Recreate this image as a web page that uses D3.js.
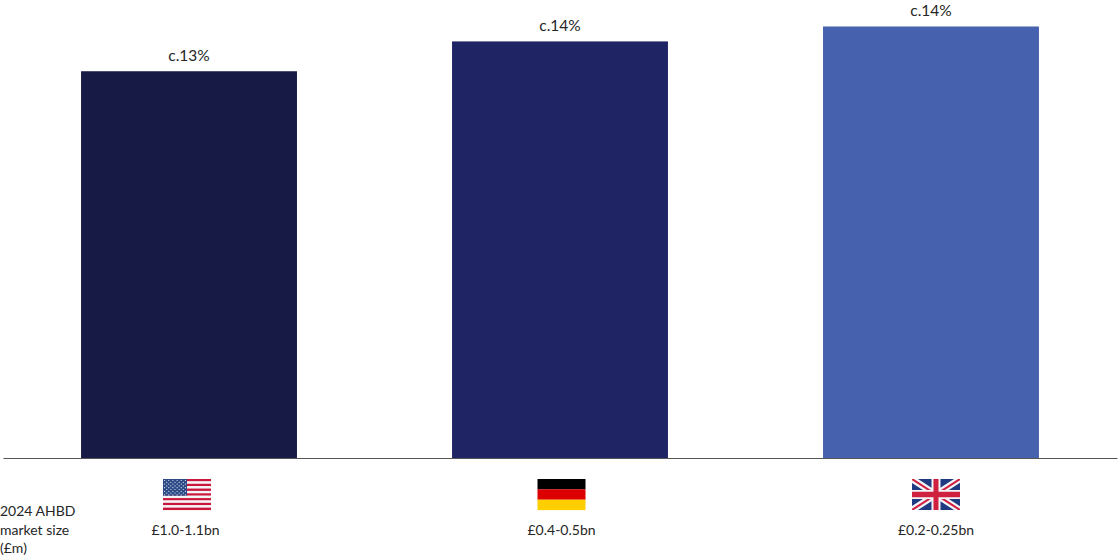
<!DOCTYPE html>
<html><head><meta charset="utf-8">
<script src="https://cdn.jsdelivr.net/npm/d3@7"></script>
<style>
html,body{margin:0;padding:0;background:#fff}
svg{display:block}
text{font-family:Lato,"Open Sans",sans-serif;fill:#262626}
</style></head><body>
<svg id="c" width="1118" height="557"></svg>
<script>
const countries = ["US","DE","UK"];
const values = [13.0, 14.0, 14.5];
const valueLabels = ["c.13%","c.14%","c.14%"];
const marketSizes = ["£1.0-1.1bn","£0.4-0.5bn","£0.2-0.25bn"];
const barColors = ["#161a45","#1f2465","#4661ad"];
const rowTitle = ["2024 AHBD","market size","(£m)"];

const svg = d3.select("#c");
const x = d3.scaleBand().domain(countries).range([3,1117]).paddingInner(0.418).paddingOuter(0.2104);
const y = d3.scaleLinear().domain([0,14.5]).range([459,26.5]);
const centre = d => x(d)+x.bandwidth()/2;

svg.selectAll("rect.bar").data(countries).join("rect").attr("class","bar")
  .attr("x",d=>x(d)).attr("width",x.bandwidth())
  .attr("y",(d,i)=>y(values[i])).attr("height",(d,i)=>y(0)-y(values[i]))
  .attr("fill",(d,i)=>barColors[i]);

svg.selectAll("text.val").data(countries).join("text").attr("class","val")
  .attr("x",d=>centre(d)).attr("y",(d,i)=>y(values[i])-(i===2?11:10))
  .attr("text-anchor","middle").attr("font-size",15.5).text((d,i)=>valueLabels[i]);

// The labels and flags sit slightly off the bar centres in the original
const nudge = {US:-3.5, DE:1.5, UK:5};
const axis = d3.axisBottom(x).tickSize(0).tickSizeOuter(0).tickPadding(67)
  .tickFormat((d,i)=>marketSizes[i]);
const gx = svg.append("g").attr("transform","translate(0,458)").call(axis);
gx.select(".domain").attr("stroke","#555").attr("stroke-width",1);
gx.selectAll(".tick text").attr("font-size",14).attr("font-family",'Lato,"Open Sans",sans-serif').attr("fill","#262626")
  .attr("dx",d=>nudge[d]);

svg.append("g").selectAll("text").data(rowTitle).join("text")
  .attr("x",0).attr("y",(d,i)=>516+i*18.5).attr("font-size",14).text(d=>d);

// Flags: 48 x 31 icons
const fw=48, fh=31, fy=479;
const flagNudge = {US:-2, DE:1.5, UK:5};
const defs = svg.append("defs");
defs.append("clipPath").attr("id","ukclip").append("rect").attr("width",fw).attr("height",fh);
const flag = c => svg.append("g").attr("transform",`translate(${centre(c)-fw/2+flagNudge[c]},${fy})`);

// US
const us = flag("US");
const stripeY = d3.scaleBand().domain(d3.range(13)).range([0,fh]);
us.selectAll("rect.s").data(d3.range(13)).join("rect").attr("class","s")
  .attr("x",0).attr("width",fw).attr("y",d=>stripeY(d)).attr("height",stripeY.bandwidth()+0.05)
  .attr("fill",d=>d%2?"#f4f4f6":"#c8163c");
us.append("rect").attr("width",24).attr("height",stripeY(7)).attr("fill","#2c4a86");
const sr=d3.range(9), sc=d3.range(11);
us.selectAll("circle").data(sr.flatMap(r=>sc.filter(k=>k%2===r%2).map(k=>[k,r]))).join("circle")
  .attr("cx",d=>1.6+d[0]*2.08).attr("cy",d=>1.5+d[1]*1.8).attr("r",0.62).attr("fill","#dfe5f2");

// DE
const de = flag("DE");
["#000000","#dd0000","#ffce00"].forEach((col,i)=>de.append("rect").attr("y",i*fh/3).attr("width",fw).attr("height",fh/3+0.1).attr("fill",col));

// UK
const uk = flag("UK").append("g").attr("clip-path","url(#ukclip)");
uk.append("rect").attr("width",fw).attr("height",fh).attr("fill","#1f3a80");
const diag=[[0,0,fw,fh],[fw,0,0,fh]];
uk.selectAll("line.w").data(diag).join("line").attr("class","w")
  .attr("x1",d=>d[0]).attr("y1",d=>d[1]).attr("x2",d=>d[2]).attr("y2",d=>d[3]).attr("stroke","#f4f4f8").attr("stroke-width",6.5);
uk.selectAll("line.r").data(diag).join("line").attr("class","r")
  .attr("x1",d=>d[0]).attr("y1",d=>d[1]).attr("x2",d=>d[2]).attr("y2",d=>d[3]).attr("stroke","#d0203f").attr("stroke-width",2);
uk.append("rect").attr("x",fw/2-4.5).attr("width",9).attr("height",fh).attr("fill","#f4f4f8");
uk.append("rect").attr("y",fh/2-4.5).attr("width",fw).attr("height",9).attr("fill","#f4f4f8");
uk.append("rect").attr("x",fw/2-2.5).attr("width",5).attr("height",fh).attr("fill","#d0203f");
uk.append("rect").attr("y",fh/2-2.75).attr("width",fw).attr("height",5.5).attr("fill","#d0203f");
</script>
</body></html>
